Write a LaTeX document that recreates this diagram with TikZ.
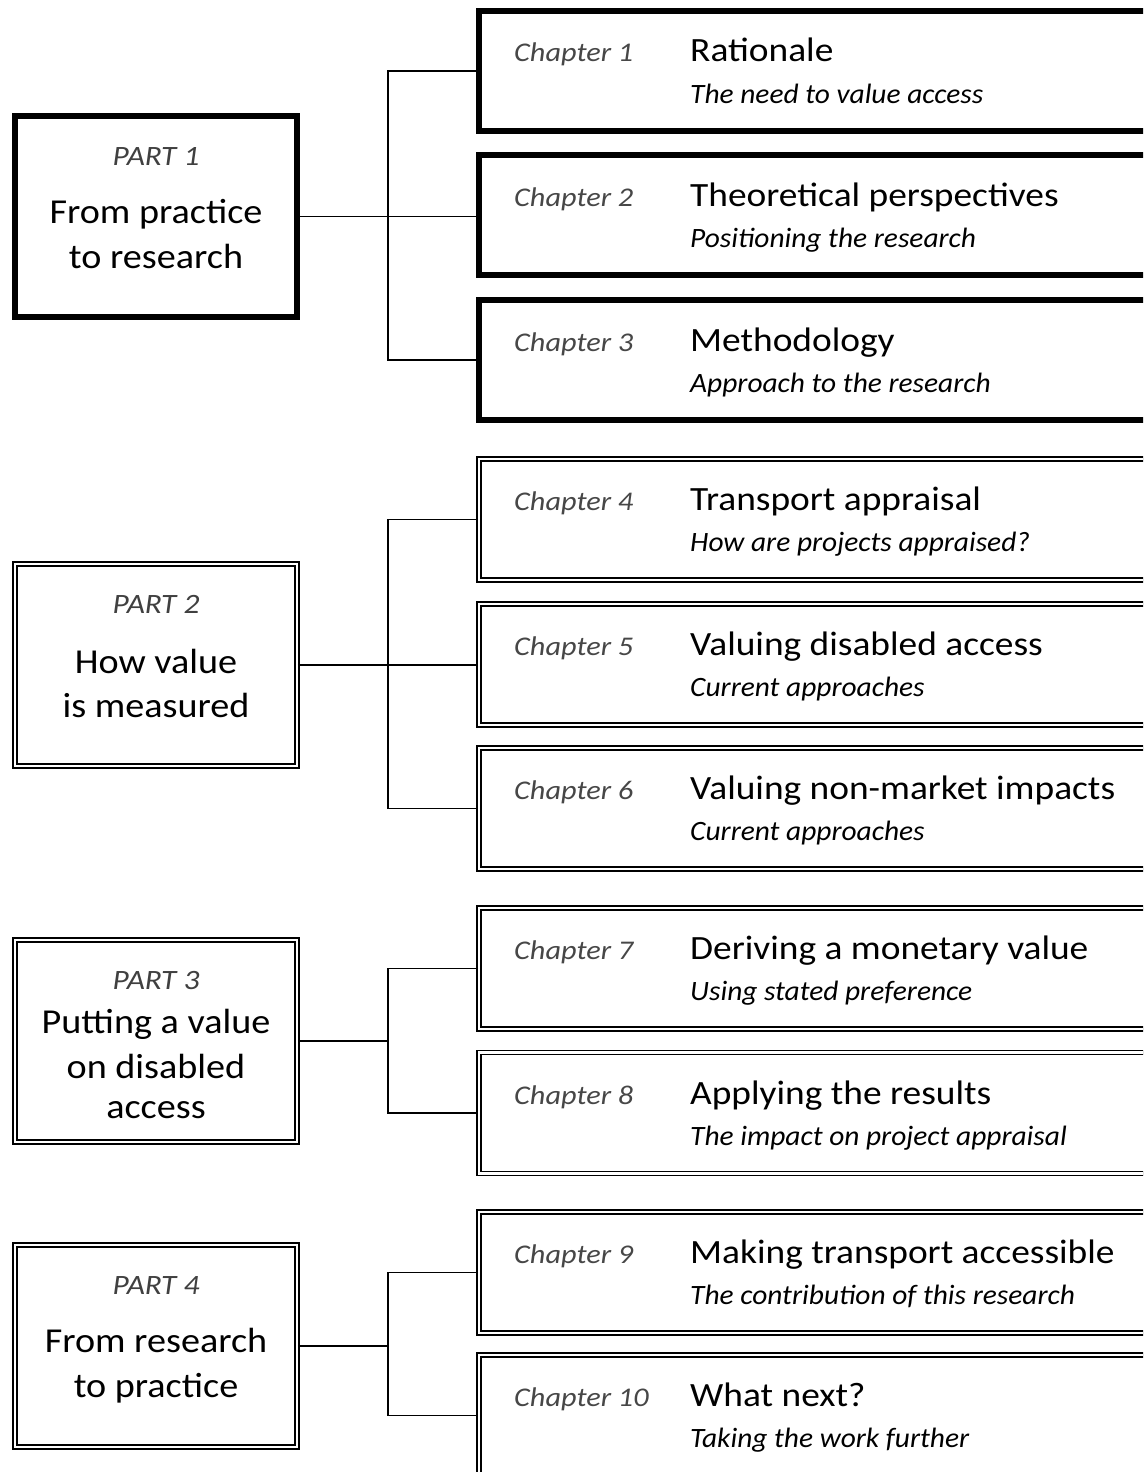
\documentclass[tikz,border=0pt]{standalone}
\usepackage{fontspec}
\setmainfont{Carlito}
\newfontfamily\titlefont[FakeStretch=1.1]{Carlito}
\newfontfamily\subfont[FakeStretch=1.05]{Carlito}
\newfontfamily\labfont[FakeStretch=1.12]{Carlito}
\newfontfamily\parttfont[FakeStretch=1.09]{Carlito}
\begin{document}
\begin{tikzpicture}[x=1pt,y=-1pt,
  thickbox/.style={draw=black,line width=6pt,minimum width=691pt,minimum height=120pt,inner sep=0pt,fill=white},
  dblbox/.style={draw=black,double=white,double distance=2.6pt,line width=1.6pt,minimum width=691pt,minimum height=121pt,inner sep=0pt},
  partthick/.style={draw=black,line width=6pt,minimum width=282pt,minimum height=201pt,inner sep=0pt},
  partdbl/.style={draw=black,double=white,double distance=2.6pt,line width=1.6pt,minimum width=282pt,minimum height=202pt,inner sep=0pt},
  chlab/.style={anchor=base west,inner sep=0pt,text=black!72,font=\labfont\fontsize{27}{32}\selectfont\itshape},
  chtitle/.style={anchor=base west,inner sep=0pt,font=\titlefont\fontsize{34}{40}\selectfont},
  chsub/.style={anchor=base west,inner sep=0pt,font=\subfont\fontsize{28}{34}\selectfont\itshape},
  partlab/.style={anchor=base,inner sep=0pt,text=black!75,font=\labfont\fontsize{28}{34}\selectfont\itshape},
  parttitle/.style={anchor=base,inner sep=0pt,font=\parttfont\fontsize{35}{42}\selectfont},
  conn/.style={draw=black,line width=1.6pt}]
\useasboundingbox (0,0) rectangle (1143,1472);
\clip (0,0) rectangle (1143,1472);
\fill[white] (0,0) rectangle (1143,1472);

% chapter boxes
\node[thickbox] (c1) at (824.5,71) {};
\node[thickbox] (c2) at (824.5,215) {};
\node[thickbox] (c3) at (824.5,360) {};
\node[dblbox] (c4) at (824.5,519.5) {};
\node[dblbox] (c5) at (824.5,664.5) {};
\node[dblbox] (c6) at (824.5,808.5) {};
\node[dblbox] (c7) at (824.5,968.5) {};
\node[dblbox] (c8) at (824.5,1113) {};
\node[dblbox] (c9) at (824.5,1272.5) {};
\node[dblbox] (c10) at (824.5,1415.5) {};

% part boxes
\node[partthick] (p1) at (156,216.5) {};
\node[partdbl] (p2) at (156,665) {};
\node[partdbl] (p3) at (156,1041) {};
\node[partdbl] (p4) at (156,1346) {};

% chapter texts
\foreach \i/\t/\s in {
  1/Rationale/The need to value access,
  2/Theoretical perspectives/Positioning the research,
  3/Methodology/Approach to the research,
  4/Transport appraisal/How are projects appraised?,
  5/Valuing disabled access/Current approaches,
  6/Valuing non-market impacts/Current approaches,
  7/Deriving a monetary value/Using stated preference,
  8/Applying the results/The impact on project appraisal,
  9/Making transport accessible/The contribution of this research,
  10/What next?/Taking the work further}{
  \node[chlab] (l\i) at ([yshift=9pt]c\i.center -| 514,0) {Chapter \i};
  \node[chtitle] (t\i) at ([yshift=9pt]c\i.center -| 690,0) {\t};
  \node[chsub] (s\i) at ([yshift=-32pt]c\i.center -| 690,0) {\s};
}

% part texts
\node[partlab] (pl1) at ([yshift=51.5pt]p1.center) {PART 1};
\node[parttitle] (pa1) at ([yshift=-6.5pt]p1.center) {From practice};
\node[parttitle] (pb1) at ([yshift=-51.5pt]p1.center) {to research};

\node[partlab] (pl2) at ([yshift=52pt]p2.center) {PART 2};
\node[parttitle] (pa2) at ([yshift=-8pt]p2.center) {How value};
\node[parttitle] (pb2) at ([yshift=-52pt]p2.center) {is measured};

\node[partlab] (pl3) at ([yshift=52pt]p3.center) {PART 3};
\node[parttitle] (pa3) at ([yshift=8pt]p3.center) {Putting a value};
\node[parttitle] (pb3) at ([yshift=-37pt]p3.center) {on disabled};
\node[parttitle] (pc3) at ([yshift=-77pt]p3.center) {access};

\node[partlab] (pl4) at ([yshift=51.5pt]p4.center) {PART 4};
\node[parttitle] (pa4) at ([yshift=-6.5pt]p4.center) {From research};
\node[parttitle] (pb4) at ([yshift=-51.5pt]p4.center) {to practice};

% junctions
\coordinate (j1) at (388,216.5);
\coordinate (j2) at (388,665);
\coordinate (j3) at (388,1041);
\coordinate (j4) at (388,1346);

\draw[conn] (c1.west) -| (j1) |- (c3.west);
\draw[conn] (p1.east) -- (p1.east -| c2.west);
\draw[conn] (c4.west) -| (j2) |- (c6.west);
\draw[conn] (p2.east) -- (p2.east -| c5.west);
\draw[conn] (c7.west) -| (j3) |- (c8.west);
\draw[conn] (p3.east) -- (j3);
\draw[conn] (c9.west) -| (j4) |- (c10.west);
\draw[conn] (p4.east) -- (j4);
\end{tikzpicture}
\end{document}
